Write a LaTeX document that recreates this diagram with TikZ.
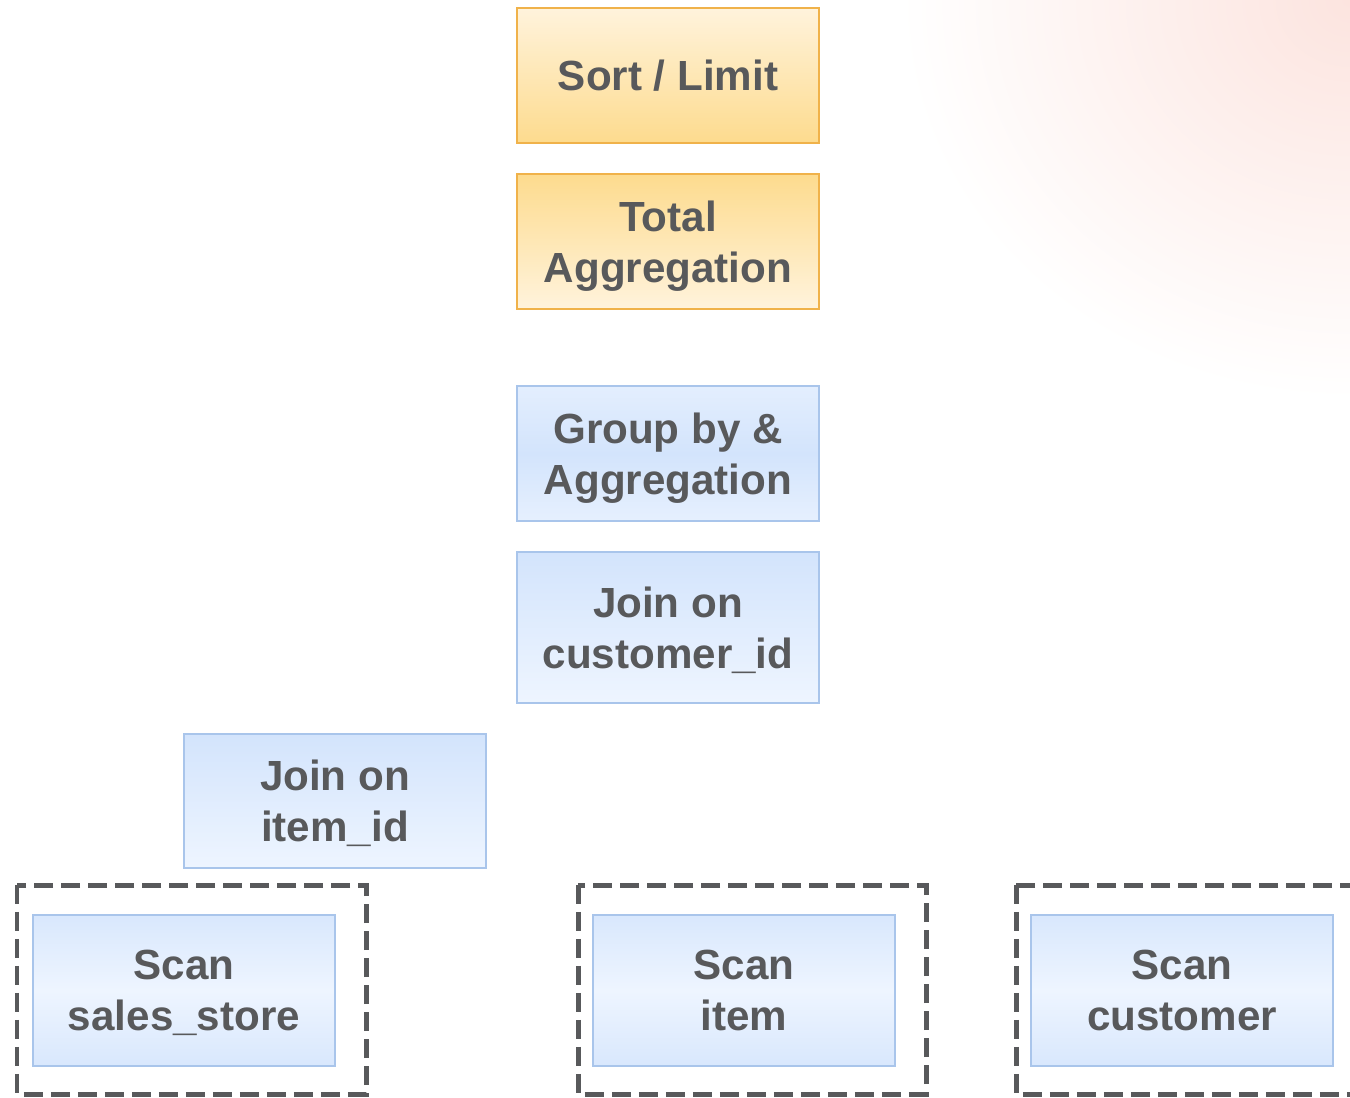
\documentclass[tikz,border=0pt]{standalone}
\usepackage{fontspec}
\setmainfont{Liberation Sans}
\usepackage{tikz}
\usetikzlibrary{shapes,arrows}
\usetikzlibrary{calc}

\definecolor{txtgray}{HTML}{58595B}
\definecolor{orgline}{HTML}{F0B24A}
\definecolor{orglight}{HTML}{FFF3DC}
\definecolor{orgdark}{HTML}{FDDB8E}
\definecolor{bluline}{HTML}{A9C5EB}
\definecolor{blulight}{HTML}{EEF5FF}
\definecolor{bludark}{HTML}{D3E4FC}
\definecolor{glow}{HTML}{FCE4DF}

\tikzset{
  opbox/.style={draw=orgline, line width=0.04cm, minimum width=6.04cm, minimum height=2.7cm,
    align=center, text depth=0pt, text=txtgray, font=\fontsize{24}{29}\selectfont\bfseries},
  blubox/.style={opbox, draw=bluline},
  tallbox/.style={minimum height=3.02cm},
  dashbox/.style={draw=txtgray, line width=0.1cm, dash pattern=on 0.38cm off 0.16cm}
}

\begin{document}
\begin{tikzpicture}[x=0.02cm, y=-0.02cm]

\useasboundingbox (0,0) rectangle (1350,1098);

\begin{scope}
\clip (0,0) rectangle (1350,1098);
\shade[inner color=glow, outer color=white] (1350,0) ellipse (9cm and 8cm);
\end{scope}

\node[opbox, top color=orglight, bottom color=orgdark] (sort) at (668,75.5) {Sort / Limit};
\node[opbox, top color=orgdark, bottom color=orglight] (total) at (668,241.5) {Total\\Aggregation};

\node[blubox, top color=blulight!60!bludark, bottom color=blulight!70!bludark, middle color=bludark] (group) at (668,453.5) {Group by \&\\Aggregation};
\node[blubox, tallbox, top color=bludark, bottom color=blulight] (joinc) at (668,627.5) {Join on\\customer\_id};
\node[blubox, top color=bludark, bottom color=blulight] (joini) at (335,801) {Join on\\item\_id};

\node[blubox, tallbox, top color=bludark!80!blulight, bottom color=bludark!80!blulight, middle color=blulight] (scan1) at (184,990.5) {Scan\\sales\_store};
\node[blubox, tallbox, top color=bludark!80!blulight, bottom color=bludark!80!blulight, middle color=blulight] (scan2) at (744,990.5) {Scan\\item};
\node[blubox, tallbox, top color=bludark!80!blulight, bottom color=bludark!80!blulight, middle color=blulight] (scan3) at (1182,990.5) {Scan\\customer};

\draw[dashbox] (17,885) rectangle (366,1094);
\draw[dashbox] (578,885) rectangle (926,1094);
\draw[dashbox] (1016,885) rectangle (1370,1094);

\end{tikzpicture}
\end{document}
